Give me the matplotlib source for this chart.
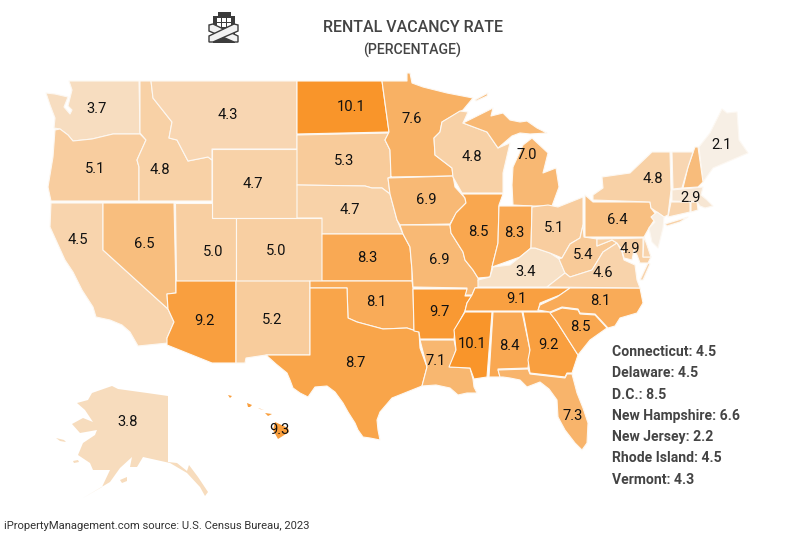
# Rental vacancy rate by state, choropleth drawn from hand traced outlines
import matplotlib
matplotlib.use('Agg')
import matplotlib.pyplot as plt
from matplotlib.colors import LinearSegmentedColormap, Normalize
from matplotlib.patches import Polygon, Rectangle

plt.rcParams['font.family'] = ['Roboto', 'DejaVu Sans']

# 1 Values
states = ['WA', 'OR', 'CA', 'ID', 'NV', 'MT', 'WY', 'UT', 'AZ', 'CO', 'NM', 'ND', 'SD', 'NE', 'KS', 'OK', 'TX',
          'MN', 'IA', 'MO', 'AR', 'LA', 'WI', 'IL', 'MS', 'MI', 'IN', 'KY', 'TN', 'AL', 'OH', 'WV', 'GA', 'FL',
          'SC', 'NC', 'VA', 'PA', 'NY', 'MD', 'ME', 'MA', 'AK', 'HI']
rates = [3.7, 5.1, 4.5, 4.8, 6.5, 4.3, 4.7, 5.0, 9.2, 5.0, 5.2, 10.1, 5.3, 4.7, 8.3, 8.1, 8.7,
         7.6, 6.9, 6.9, 9.7, 7.1, 4.8, 8.5, 10.1, 7.0, 8.3, 3.4, 9.1, 8.4, 5.1, 5.4, 9.2, 7.3,
         8.5, 8.1, 4.6, 6.4, 4.8, 4.9, 2.1, 2.9, 3.8, 9.3]

# small states listed at the side, no label on the map
small_states = ['CT', 'DE', 'DC', 'NH', 'NJ', 'RI', 'VT']
small_rates = [4.5, 4.5, 8.5, 6.6, 2.2, 4.5, 4.3]
small_names = ['Connecticut', 'Delaware', 'D.C.', 'New Hampshire', 'New Jersey', 'Rhode Island', 'Vermont']

# 2 Label positions on the map (pixels)
label_x = [97, 95, 78, 160, 144, 228, 253, 213, 204, 276, 272, 351, 344, 350, 367, 376, 355,
           412, 426, 439, 439, 436, 472, 478, 472, 527, 514, 526, 516, 509, 554, 583, 548, 573,
           580, 600, 603, 617, 653, 630, 722, 691, 128, 279]
label_y = [109, 169, 240, 170, 244, 115, 184, 252, 321, 251, 320, 107, 161, 210, 258, 302, 363,
           119, 200, 260, 312, 361, 157, 232, 344, 155, 233, 272, 299, 346, 228, 255, 345, 416,
           327, 301, 273, 220, 179, 249, 145, 198, 422, 430]

# 3 State outlines, traced in image pixels
outlines = {
    'WA': [[(69, 81), (139, 81), (140, 134), (113, 134), (92, 139), (73, 141), (68, 135), (60, 129), (54, 128),
            (55, 118), (50, 105), (46, 93), (55, 94), (68, 97), (64, 107), (70, 114), (72, 110), (68, 106), (72, 90)]],
    'OR': [[(55, 130), (60, 129), (68, 135), (73, 141), (92, 139), (113, 134), (140, 134), (146, 140), (137, 160),
            (139, 167), (139, 201), (51, 201), (48, 187), (53, 157)]],
    'CA': [[(51, 203), (103, 203), (103, 250), (168, 309), (174, 322), (167, 338), (168, 343), (138, 346),
            (130, 332), (122, 325), (110, 320), (96, 317), (93, 307), (82, 290), (73, 272), (65, 260), (50, 227)]],
    'ID': [[(140, 81), (151, 81), (153, 98), (172, 122), (169, 138), (177, 140), (188, 161), (208, 157), (212, 160),
            (212, 201), (139, 201), (139, 167), (137, 160), (146, 140), (140, 133)]],
    'NV': [[(103, 203), (174, 203), (176, 293), (167, 294), (168, 309), (103, 250)]],
    'MT': [[(151, 81), (297, 81), (297, 149), (212, 149), (212, 160), (208, 157), (188, 161), (177, 140), (169, 138),
            (172, 122), (153, 98)]],
    'WY': [[(212, 149), (297, 149), (297, 218), (212, 218)]],
    'UT': [[(175, 203), (212, 203), (212, 218), (236, 218), (236, 281), (176, 281)]],
    'AZ': [[(176, 281), (236, 281), (236, 363), (212, 363), (167, 345), (167, 338), (174, 322), (168, 309), (167, 294),
            (176, 293)]],
    'CO': [[(236, 218), (322, 218), (322, 281), (236, 281)]],
    'NM': [[(236, 281), (310, 281), (310, 355), (266, 355), (246, 358), (245, 363), (236, 363)]],
    'ND': [[(297, 81), (382, 81), (385, 103), (389, 132), (297, 134)]],
    'SD': [[(297, 135), (389, 133), (385, 140), (390, 150), (391, 177), (388, 178), (390, 194), (382, 188), (372, 188),
            (365, 186), (297, 185)]],
    'NE': [[(297, 185), (365, 186), (372, 188), (382, 188), (390, 194), (397, 220), (403, 234), (322, 234), (322, 218),
            (297, 218)]],
    'KS': [[(322, 234), (403, 234), (410, 247), (412, 270), (412, 281), (322, 281)]],
    'OK': [[(310, 281), (412, 281), (413, 288), (414, 331), (419, 332), (407, 328), (383, 329), (357, 322), (348, 318),
            (347, 288), (310, 288)]],
    'TX': [[(310, 288), (347, 288), (348, 318), (357, 322), (383, 329), (407, 328), (419, 332), (420, 348), (427, 367),
            (422, 386), (407, 392), (392, 398), (380, 412), (377, 420), (378, 430), (380, 440), (370, 438), (363, 437),
            (358, 430), (355, 423), (348, 412), (343, 403), (335, 392), (327, 386), (315, 387), (308, 397), (300, 393),
            (293, 388), (290, 380), (287, 373), (276, 364), (266, 355), (310, 355)]],
    'MN': [[(382, 81), (407, 81), (407, 73), (410, 73), (412, 83), (423, 87), (447, 93), (473, 98), (463, 110),
            (442, 122), (440, 132), (434, 138), (435, 155), (452, 168), (453, 176), (390, 177), (391, 177), (390, 150),
            (385, 140), (389, 132), (385, 103)]],
    'IA': [[(388, 178), (453, 176), (455, 187), (465, 198), (466, 203), (457, 212), (450, 224), (400, 225), (397, 220),
            (390, 194)]],
    'MO': [[(400, 225), (450, 225), (451, 233), (463, 252), (465, 260), (473, 270), (478, 278), (479, 287), (475, 288),
            (472, 295), (465, 295), (467, 288), (413, 287), (412, 270), (410, 247), (403, 234)]],
    'AR': [[(413, 289), (467, 289), (465, 296), (472, 296), (467, 303), (465, 311), (455, 330), (454, 339), (420, 339),
            (419, 332), (414, 331)]],
    'LA': [[(420, 340), (454, 340), (456, 350), (450, 367), (470, 368), (473, 379), (474, 387), (477, 393), (467, 393),
            (458, 395), (450, 388), (436, 385), (422, 386), (427, 367)]],
    'WI': [[(442, 122), (460, 111), (468, 112), (463, 123), (487, 132), (498, 148), (510, 143), (503, 173), (503, 193),
            (462, 193), (453, 177), (452, 168), (435, 155), (434, 138), (440, 132)]],
    'IL': [[(462, 194), (503, 194), (499, 205), (498, 243), (492, 267), (490, 277), (478, 278), (473, 270), (465, 260),
            (463, 252), (451, 233), (450, 225), (456, 213), (466, 203), (465, 198)]],
    'MS': [[(465, 312), (492, 312), (487, 377), (474, 379), (470, 368), (449, 367), (456, 350), (454, 330)]],
    'MI': [[(532, 206), (552, 206), (559, 187), (556, 168), (543, 173), (548, 153), (532, 138), (523, 145), (513, 167),
            (512, 185), (513, 205)],
           [(465, 122), (473, 118), (493, 108), (491, 116), (503, 113), (510, 120), (520, 122), (527, 121), (537, 128),
            (547, 133), (530, 134), (520, 133), (512, 136), (498, 148), (487, 132), (463, 123)],
           [(475, 100), (488, 93), (487, 96), (476, 101)]],
    'IN': [[(499, 206), (532, 206), (531, 248), (520, 257), (492, 267), (498, 243)]],
    'KY': [[(478, 280), (490, 277), (493, 267), (510, 265), (520, 257), (531, 248), (535, 248), (550, 253), (559, 259),
            (565, 273), (547, 287), (478, 287)]],
    'TN': [[(475, 288), (570, 288), (560, 295), (540, 303), (538, 311), (465, 311), (467, 303), (472, 295)]],
    'AL': [[(493, 312), (522, 312), (530, 350), (528, 368), (498, 369), (500, 377), (489, 377)]],
    'OH': [[(532, 207), (548, 205), (558, 207), (583, 197), (583, 225), (580, 238), (570, 244), (562, 258), (550, 253),
            (535, 248), (531, 248)]],
    'WV': [[(583, 225), (584, 237), (597, 239), (597, 246), (612, 240), (617, 243), (603, 252), (592, 270), (570, 277),
            (565, 273), (559, 259), (562, 258), (570, 244), (580, 238)]],
    'GA': [[(523, 312), (551, 312), (557, 322), (578, 355), (572, 373), (567, 373), (565, 377), (530, 373), (528, 360),
            (530, 350)]],
    'FL': [[(498, 370), (528, 369), (530, 374), (565, 378), (567, 374), (572, 374), (577, 393), (583, 408), (588, 423),
            (587, 443), (582, 450), (575, 443), (565, 430), (558, 417), (557, 400), (549, 389), (540, 382), (527, 387),
            (520, 380), (510, 378), (503, 377), (500, 377)]],
    'SC': [[(550, 313), (562, 308), (578, 310), (580, 314), (595, 315), (607, 328), (590, 340), (578, 355), (557, 322)]],
    'NC': [[(570, 288), (640, 288), (643, 303), (637, 313), (620, 318), (615, 326), (608, 328), (595, 314), (580, 313),
            (578, 309), (562, 307), (550, 312), (538, 310), (540, 305), (557, 297)]],
    'VA': [[(547, 287), (565, 273), (570, 277), (592, 270), (603, 252), (617, 243), (622, 252), (624, 260), (635, 265),
            (637, 280), (640, 288)],
           [(640, 280), (648, 263), (650, 264), (643, 280)]],
    'PA': [[(585, 195), (593, 202), (650, 202), (651, 208), (657, 216), (649, 228), (644, 237), (585, 237)]],
    'NY': [[(593, 200), (593, 195), (603, 188), (602, 177), (630, 173), (652, 152), (670, 152), (671, 190), (668, 215),
            (664, 217), (651, 208), (650, 202)],
           [(665, 224), (688, 217), (680, 222), (667, 226)]],
    'MD': [[(597, 239), (643, 238), (643, 257), (651, 257), (648, 263), (640, 263), (637, 255), (634, 250), (632, 260),
            (624, 258), (622, 250), (617, 243), (612, 240), (597, 246)]],
    'ME': [[(722, 109), (727, 113), (737, 112), (739, 140), (748, 153), (713, 168), (703, 182), (699, 147), (710, 133)]],
    'MA': [[(672, 190), (703, 187), (701, 195), (707, 200), (713, 206), (705, 208), (700, 206), (697, 202), (672, 201)]],
    'AK': [[(168, 396), (168, 462), (177, 463), (187, 471), (189, 465), (198, 477), (208, 492), (205, 496), (200, 487),
            (187, 473), (170, 463), (143, 457), (137, 467), (130, 467), (132, 457), (120, 468), (110, 482), (83, 498),
            (102, 487), (110, 470), (93, 470), (90, 463), (78, 455), (83, 443), (95, 435), (97, 430), (80, 433),
            (72, 424), (83, 418), (93, 422), (85, 410), (77, 403), (88, 400), (92, 393), (112, 386), (118, 389),
            (147, 393)],
           [(120, 480), (127, 477), (127, 481), (122, 483)],
           [(73, 461), (78, 460), (79, 462), (74, 463)],
           [(56, 438), (64, 440), (66, 442), (60, 441)]],
    'HI': [[(275, 422), (288, 428), (289, 432), (278, 439), (273, 430)],
           [(265, 413), (272, 414), (268, 416)],
           [(247, 403), (252, 405), (250, 407), (248, 407)],
           [(228, 395), (232, 396), (230, 398)],
           [(258, 408), (264, 410), (260, 409)]],
    'CT': [[(671, 202), (690, 202), (690, 212), (668, 217)]],
    'RI': [[(691, 202), (697, 202), (698, 210), (691, 212)]],
    'DE': [[(644, 237), (647, 245), (651, 257), (643, 257)]],
    'NH': [[(695, 147), (698, 147), (703, 182), (698, 187), (683, 188), (688, 167)]],
    'VT': [[(672, 152), (693, 152), (688, 167), (682, 188), (673, 189)]],
    'NJ': [[(657, 212), (664, 217), (663, 228), (658, 248), (652, 242), (649, 228), (655, 222), (651, 217)]],
    'DC': [[(622, 249), (624, 249), (624, 251), (622, 251)]],
}

# 4 Colour scale, pale cream up to strong orange
cmap = LinearSegmentedColormap.from_list('vacancy', ['#F7EFE5', '#F9952A'])
norm = Normalize(vmin=2.1, vmax=10.1)
all_rates = dict(zip(states + small_states, rates + small_rates))

fig = plt.figure(figsize=(8, 5.35), dpi=100)
ax = fig.add_axes([0, 0, 1, 1])
ax.set_xlim(0, 800)
ax.set_ylim(535, 0)
ax.axis('off')

for state, parts in outlines.items():
    # islands are too small for a border
    line_width = 0 if state in ('HI', 'AK') else 0.8
    for part in parts:
        ax.add_patch(Polygon(part, closed=True, facecolor=cmap(norm(all_rates[state])),
                             edgecolor='#FDF8F2', linewidth=line_width, joinstyle='round'))

for state, rate, x, y in zip(states, rates, label_x, label_y):
    ax.text(x, y, f'{rate:.1f}', ha='center', va='center', fontsize=10.6, color='#111111')

# 5 Titles and side list
ax.text(413, 27, 'RENTAL VACANCY RATE', ha='center', va='center', fontsize=11.5, color='#444444', fontweight='medium')
ax.text(412, 50, '(PERCENTAGE)', ha='center', va='center', fontsize=10.2, color='#444444', fontweight='medium')

for i, (name, rate) in enumerate(zip(small_names, small_rates)):
    ax.text(612, 352 + i * 21.3, f'{name}: {rate:.1f}', ha='left', va='center', fontsize=10.1,
            color='#444444', fontweight='bold')

ax.text(4, 526, 'iPropertyManagement.com source: U.S. Census Bureau, 2023', ha='left', va='center',
        fontsize=8.1, color='#333333')

# 6 Boarded up building icon
dark = '#3C3C3C'
ax.add_patch(Rectangle((213, 16), 22, 27, color=dark, lw=0))
ax.add_patch(Rectangle((218, 12), 13, 5, color=dark, lw=0))
for wx in (217, 222, 227):
    for wy in (18, 23):
        ax.add_patch(Rectangle((wx, wy), 3.5, 3.5, color='white', lw=0))
for plank in ([(209, 25), (213, 24), (238, 36), (238, 42), (234, 42), (209, 31)],
              [(238, 25), (234, 24), (209, 36), (209, 42), (213, 42), (238, 31)]):
    ax.add_patch(Polygon(plank, closed=True, facecolor='#F2F2F2', edgecolor=dark, linewidth=1.0))

fig.savefig('out.png', dpi=100)
